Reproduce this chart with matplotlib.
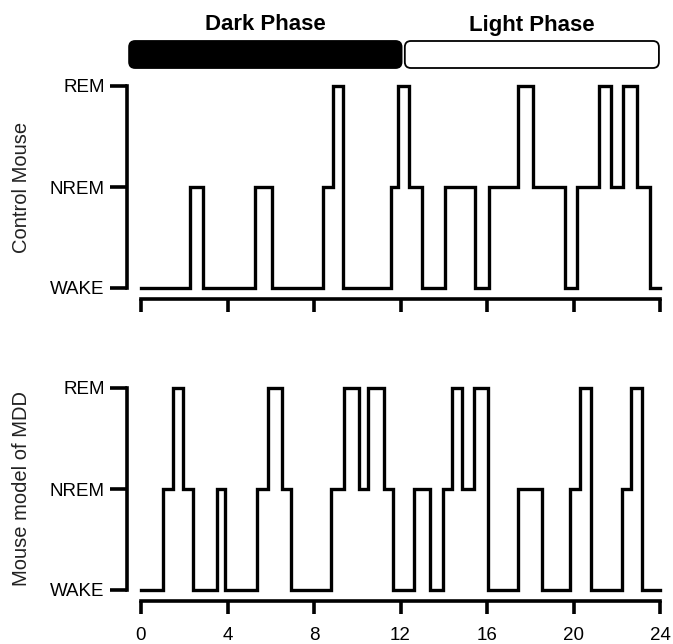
import matplotlib
matplotlib.use("Agg")
import matplotlib.pyplot as plt
from matplotlib.patches import FancyBboxPatch

plt.rcParams['font.family'] = ['Liberation Sans', 'DejaVu Sans']

# sleep stages: 0 = WAKE, 1 = NREM, 2 = REM
stage_labels = ['WAKE', 'NREM', 'REM']
hour_ticks = [0, 4, 8, 12, 16, 20, 24]

control_t = [0, 2.27, 2.86, 5.28, 6.05, 8.4, 8.9, 9.32, 11.55, 11.9, 12.4, 13.0,
             14.07, 15.46, 16.08, 17.42, 18.13, 19.63, 20.17, 21.17, 21.75,
             22.28, 22.95, 23.53, 24]
control_s = [0, 1, 0, 1, 0, 1, 2, 0, 1, 2, 1, 0, 1, 0, 1, 2, 1, 0, 1, 2, 1, 2,
             1, 0, 0]

mdd_t = [0, 1.03, 1.5, 1.96, 2.42, 3.5, 3.89, 5.38, 5.85, 6.54, 6.93, 8.78,
         9.37, 10.09, 10.52, 11.26, 11.65, 12.64, 13.38, 13.95, 14.38, 14.85,
         15.39, 16.04, 17.44, 18.55, 19.86, 20.28, 20.82, 22.22, 22.67, 23.18, 24]
mdd_s = [0, 1, 2, 1, 0, 1, 0, 1, 2, 1, 0, 1, 2, 1, 2, 1, 0, 1, 0, 1, 2, 1, 2,
         0, 1, 0, 1, 2, 0, 1, 2, 0, 0]

phase_names = ['Dark Phase', 'Light Phase']
phase_start = [-0.55, 12.2]
phase_end = [12.05, 23.95]
phase_fill = ['black', 'white']

W, H = 673, 644
fig = plt.figure(figsize=(W / 100, H / 100), dpi=100)

x0, x1 = 141, 660
ax_top = fig.add_axes([x0 / W, 1 - 288 / H, (x1 - x0) / W, 202 / H])
ax_bot = fig.add_axes([x0 / W, 1 - 590 / H, (x1 - x0) / W, 202 / H])

for ax, t, s, name in [(ax_top, control_t, control_s, 'Control Mouse'),
                       (ax_bot, mdd_t, mdd_s, 'Mouse model of MDD')]:
    ax.step(t, s, where='post', color='black', lw=2.4, clip_on=False,
            solid_joinstyle='miter', solid_capstyle='projecting')
    ax.set_xlim(0, 24)
    ax.set_ylim(0, 2)
    ax.set_yticks([0, 1, 2])
    ax.set_yticklabels(stage_labels)
    ax.set_xticks(hour_ticks)
    for side in ['top', 'right']:
        ax.spines[side].set_visible(False)
    ax.spines['left'].set_position(('outward', 10))
    ax.spines['bottom'].set_position(('outward', 8))
    ax.spines['left'].set_bounds(0, 2)
    ax.spines['bottom'].set_bounds(0, 24)
    for side in ['left', 'bottom']:
        ax.spines[side].set_linewidth(2.6)
    ax.tick_params(axis='y', length=12, width=2.6, pad=4, labelsize=13.5)
    ax.tick_params(axis='x', length=9, width=2.6, pad=10, labelsize=13.5)
    ax.patch.set_visible(False)
    bb = ax.get_position()
    fig.text(22 / W, bb.y0 + bb.height / 2, name, rotation=90,
             ha='center', va='center', fontsize=14.5, color='#222222')

ax_top.tick_params(axis='x', labelbottom=False)

# phase bar above the top panel
ax_ph = fig.add_axes([x0 / W, 1 - 68 / H, (x1 - x0) / W, 27 / H])
ax_ph.set_xlim(0, 24)
ax_ph.set_ylim(0, 1)
ax_ph.axis('off')
px_x = (x1 - x0) / 24
px_y = 27
for name, a, b, c in zip(phase_names, phase_start, phase_end, phase_fill):
    box = FancyBboxPatch((a, 0), b - a, 1,
                         boxstyle='round,pad=0,rounding_size=0.28',
                         mutation_aspect=px_x / px_y,
                         facecolor=c, edgecolor='black', lw=1.3, clip_on=False)
    ax_ph.add_patch(box)
    ax_ph.text((a + b) / 2, 1 + 16 / px_y, name, ha='center', va='center',
               fontsize=16, fontweight='bold', clip_on=False)

fig.savefig('out.png', dpi=100)
